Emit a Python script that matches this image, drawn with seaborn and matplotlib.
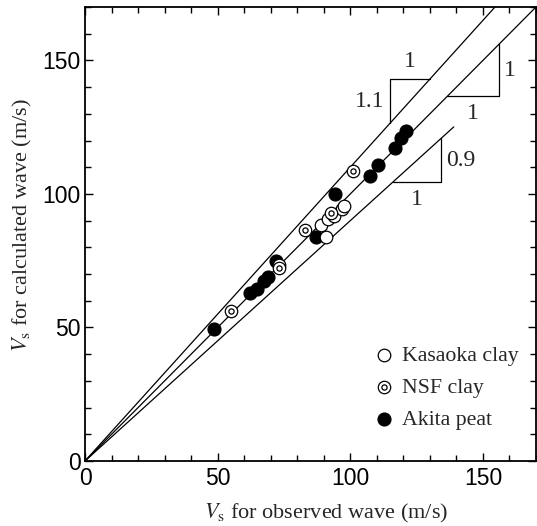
import matplotlib
matplotlib.use("Agg")
import matplotlib.pyplot as plt
from matplotlib.ticker import MultipleLocator
import seaborn as sns
import pandas as pd

# Shear-wave velocity: observed vs calculated (m/s)
kasaoka_obs = [73.3, 91.0, 89.1, 91.6, 93.9, 96.7, 97.7]
kasaoka_calc = [73.5, 83.9, 88.5, 90.6, 91.6, 94.4, 95.6]

nsf_obs = [55.2, 73.1, 82.8, 92.9, 101.1]
nsf_calc = [56.0, 72.2, 86.4, 92.9, 108.5]

akita_obs = [48.5, 62.3, 64.8, 67.3, 68.8, 72.1, 86.9, 94.4,
             107.6, 110.5, 116.8, 119.3, 120.9]
akita_calc = [49.5, 62.8, 64.5, 67.3, 69.0, 75.0, 83.9, 100.1,
              106.9, 111.0, 117.2, 121.0, 123.5]

# Reference lines through the origin: slope and x where each line ends
ref_slopes = [1.1, 1.0, 0.9]
ref_x_end = [154.5, 170.0, 139.0]

# Slope triangles: corner x positions (run start, run end) and labels
tri_run_x0 = [115.0, 136.5, 116.0]
tri_run_x1 = [130.0, 156.0, 134.2]
tri_labels_run = ["1", "1", "1"]
tri_labels_rise = ["1.1", "1", "0.9"]

sns.set_style("ticks")
plt.rcParams["font.family"] = ["Liberation Sans", "DejaVu Sans"]
plt.rcParams["mathtext.fontset"] = "stix"

serif = ["Liberation Serif", "DejaVu Serif"]

fig = plt.figure(figsize=(5.37, 5.26), dpi=100)
ax = fig.add_axes([85 / 537, 1 - 461 / 526, 451 / 537, 454 / 526])

# Reference lines
for k, x_end in zip(ref_slopes, ref_x_end):
    line = pd.DataFrame({"x": [0.0, x_end], "y": [0.0, k * x_end]})
    sns.lineplot(data=line, x="x", y="y", ax=ax, color="black", lw=0.9,
                 zorder=1, legend=False)

# Slope triangles
ann_size = 17
for k, x0, x1, lr, lq in zip(ref_slopes, tri_run_x0, tri_run_x1,
                             tri_labels_run, tri_labels_rise):
    if k > 1:
        # rise on the left, run on top
        xs = [x0, x0, x1]
        ys = [k * x0, k * x1, k * x1]
        ax.text((x0 + x1) / 2, k * x1 + 2.5, lr, ha="center", va="bottom",
                family=serif, fontsize=ann_size)
        ax.text(x0 - 2.0, (k * x0 + k * x1) / 2, lq, ha="right",
                va="center", family=serif, fontsize=ann_size)
    else:
        # run at the bottom, rise on the right
        xs = [x0, x1, x1]
        ys = [k * x0, k * x0, k * x1]
        ax.text((x0 + x1) / 2, k * x0 - 2.5, lr, ha="center", va="top",
                family=serif, fontsize=ann_size)
        ax.text(x1 + 2.0, (k * x0 + k * x1) / 2, lq, ha="left",
                va="center", family=serif, fontsize=ann_size)
    tri = pd.DataFrame({"x": xs, "y": ys})
    ax.plot(tri["x"], tri["y"], color="black", lw=0.9, zorder=1)

# Data points
sns.scatterplot(x=akita_obs, y=akita_calc, ax=ax, s=88, color="black",
                edgecolor="black", linewidth=0.8, zorder=3, legend=False)
sns.scatterplot(x=kasaoka_obs, y=kasaoka_calc, ax=ax, s=82,
                facecolor="white", edgecolor="black", linewidth=0.9,
                zorder=4, legend=False)
sns.scatterplot(x=nsf_obs, y=nsf_calc, ax=ax, s=80, facecolor="white",
                edgecolor="black", linewidth=0.9, zorder=5, legend=False)
sns.scatterplot(x=nsf_obs, y=nsf_calc, ax=ax, s=14, facecolor="white",
                edgecolor="black", linewidth=0.9, zorder=6, legend=False)

# Legend handles
lk = ax.scatter([], [], s=82, facecolor="white", edgecolor="black", lw=0.9)
ln_out = ax.scatter([], [], s=80, facecolor="white", edgecolor="black", lw=0.9)
ln_in = ax.scatter([], [], s=14, facecolor="white", edgecolor="black", lw=0.9)
la = ax.scatter([], [], s=88, facecolor="black", edgecolor="black", lw=0.8)
leg = ax.legend([lk, (ln_out, ln_in), la],
                ["Kasaoka clay", "NSF clay", "Akita peat"],
                loc="lower right", bbox_to_anchor=(0.962, 0.068),
                frameon=False, prop={"family": serif, "size": 15.7},
                handletextpad=0.15, labelspacing=0.55, handlelength=1.4,
                borderaxespad=0, borderpad=0)

ax.set_xlim(0, 170)
ax.set_ylim(0, 170)
ax.set_xticks([0, 50, 100, 150])
ax.set_yticks([0, 50, 100, 150])
ax.xaxis.set_minor_locator(MultipleLocator(10))
ax.yaxis.set_minor_locator(MultipleLocator(10))
ax.tick_params(which="both", direction="in", top=True, right=True,
               width=1.0, color="black", labelsize=16.5,
               labelcolor="black")
ax.tick_params(which="major", length=6)
ax.tick_params(which="minor", length=4)
ax.tick_params(axis="x", which="major", pad=4)
ax.tick_params(axis="y", which="major", pad=3)

for sp in ax.spines.values():
    sp.set_visible(True)
    sp.set_linewidth(1.3)
    sp.set_color("black")

ax.set_xlabel(r"$V_\mathrm{s}$ for observed wave (m/s)", family=serif,
              fontsize=16)
ax.set_ylabel(r"$V_\mathrm{s}$ for calculated wave (m/s)", family=serif,
              fontsize=16)
ax.xaxis.set_label_coords(0.534, -0.09)
ax.yaxis.set_label_coords(-0.113, 0.52)

fig.savefig("out.png", dpi=100)
